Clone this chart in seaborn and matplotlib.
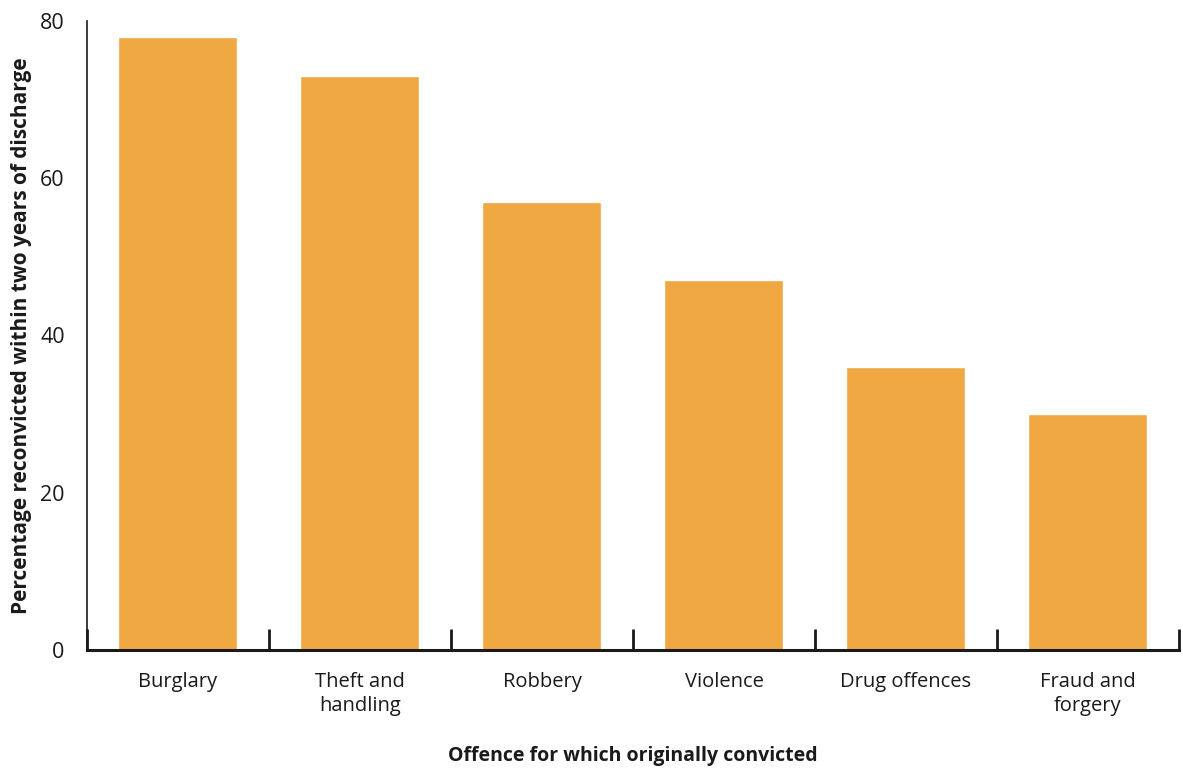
import matplotlib
matplotlib.use("Agg")
import matplotlib.pyplot as plt
import seaborn as sns
import pandas as pd
import numpy as np

offences = ["Burglary", "Theft and\nhandling", "Robbery", "Violence",
            "Drug offences", "Fraud and\nforgery"]
reconvicted_pct = [78, 73, 57, 47, 36, 30]
y_ticks = [0, 20, 40, 60, 80]

sns.set_theme(style="white")
plt.rcParams["font.family"] = ["Open Sans", "DejaVu Sans"]

df = pd.DataFrame({"offence": offences, "pct": reconvicted_pct})

fig = plt.figure(figsize=(11.83, 7.71), dpi=100)
ax = fig.add_axes([0.0735, 0.157, 0.9231, 0.8158])

sns.barplot(data=df, x="offence", y="pct", color="#F0A942", saturation=1,
            width=0.654, ax=ax)

ax.set_xlim(-0.5, len(offences) - 0.5)
ax.set_ylim(0, 80)
ax.set_yticks(y_ticks)
ax.set_yticklabels([str(v) for v in y_ticks], fontsize=15.5, color="#1a1a1a")
ax.tick_params(axis="y", length=0, pad=16)

# category labels at bar centres, boundary tick marks pointing up
ax.set_xticks(np.arange(len(offences)))
ax.set_xticklabels(offences, fontsize=14.5, color="#1a1a1a", linespacing=1.25)
ax.tick_params(axis="x", which="major", length=0, pad=16)
ax.set_xticks(np.arange(len(offences) + 1) - 0.5, minor=True)
ax.tick_params(axis="x", which="minor", direction="in", length=15, width=2,
               color="#1a1a1a", bottom=True)

for side in ["top", "right"]:
    ax.spines[side].set_visible(False)
ax.spines["left"].set_linewidth(1.2)
ax.spines["left"].set_color("#1a1a1a")
ax.spines["bottom"].set_linewidth(2.2)
ax.spines["bottom"].set_color("#1a1a1a")

ax.set_xlabel("Offence for which originally convicted", fontsize=14,
              fontweight="bold", color="#1a1a1a", labelpad=22)
ax.set_ylabel("Percentage reconvicted within two years of discharge",
              fontsize=15, fontweight="bold", color="#1a1a1a", labelpad=6)

fig.savefig("out.png", dpi=100)
